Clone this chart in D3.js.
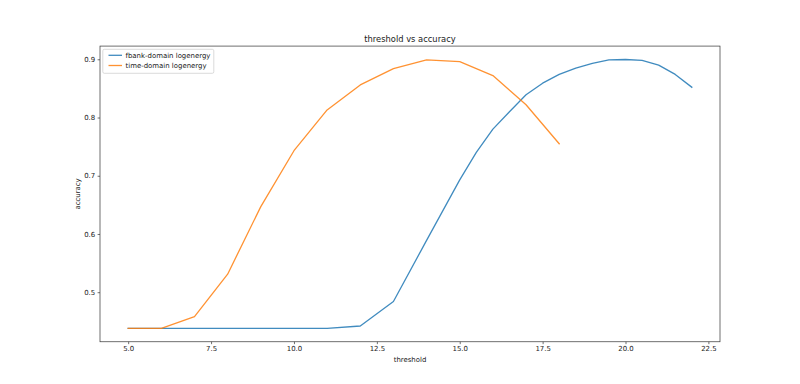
<!DOCTYPE html>
<html>
<head>
<meta charset="utf-8">
<script src="https://cdn.jsdelivr.net/npm/d3@7"></script>
<style>
  html, body { margin: 0; padding: 0; background: #fff; }
  svg { display: block; font-family: "DejaVu Sans", sans-serif; }
</style>
</head>
<body>
<svg id="chart" width="800" height="384"></svg>
<script>
// ---- data ----
const fbankX = [5, 6, 7, 8, 9, 10, 11, 12, 13, 14, 15, 15.5, 16, 16.5, 17, 17.5, 18, 18.5, 19, 19.5, 20, 20.5, 21, 21.5, 22];
const fbankY = [0.438, 0.438, 0.438, 0.438, 0.438, 0.438, 0.438, 0.442, 0.484, 0.589, 0.693, 0.740, 0.780, 0.810, 0.839, 0.859, 0.874, 0.885, 0.893, 0.899, 0.8996, 0.898, 0.890, 0.874, 0.852];
const timeX = [5, 6, 7, 8, 9, 10, 11, 12, 13, 14, 15, 16, 17, 18];
const timeY = [0.438, 0.438, 0.458, 0.531, 0.647, 0.743, 0.813, 0.856, 0.884, 0.899, 0.896, 0.872, 0.822, 0.755];
const xTicks = [5.0, 7.5, 10.0, 12.5, 15.0, 17.5, 20.0, 22.5];
const yTicks = [0.5, 0.6, 0.7, 0.8, 0.9];
const seriesNames = ["fbank-domain logenergy", "time-domain logenergy"];
const seriesColors = ["#1f77b4", "#ff7f0e"];
const titleText = "threshold vs accuracy";
const xLabel = "threshold";
const yLabel = "accuracy";

(function () {
// ---- layout ----
const mLeft = 100, mRight = 720, mTop = 46.08, mBottom = 341.76;
const svg = d3.select("#chart");

const allX = fbankX.concat(timeX), allY = fbankY.concat(timeY);
const xMin = d3.min(allX), xMax = d3.max(allX);
const yMin = d3.min(allY), yMax = d3.max(allY);
const xm = (xMax - xMin) * 0.05, ym = (yMax - yMin) * 0.05;
const x = d3.scaleLinear().domain([xMin - xm, xMax + xm]).range([mLeft, mRight]);
const y = d3.scaleLinear().domain([yMin - ym, yMax + ym]).range([mBottom, mTop]);

const fs = 6.95;
const txt = "#222";

// lines
const line = d3.line().x(d => x(d[0])).y(d => y(d[1]));
const series = [d3.zip(fbankX, fbankY), d3.zip(timeX, timeY)];
const g = svg.append("g");
series.forEach((s, i) => {
  g.append("path")
    .attr("d", line(s))
    .attr("fill", "none")
    .attr("stroke", seriesColors[i])
    .attr("stroke-opacity", 0.85)
    .attr("stroke-width", 1.3)
    .attr("stroke-linejoin", "round")
    .attr("stroke-linecap", "square");
});

// axes
const xAxis = svg.append("g")
  .attr("transform", `translate(0,${mBottom})`)
  .call(d3.axisBottom(x).tickValues(xTicks).tickFormat(d3.format(".1f")).tickSize(2.4).tickPadding(2.4).tickSizeOuter(0));
const yAxis = svg.append("g")
  .attr("transform", `translate(${mLeft},0)`)
  .call(d3.axisLeft(y).tickValues(yTicks).tickFormat(d3.format(".1f")).tickSize(2.4).tickPadding(2.4).tickSizeOuter(0));
[xAxis, yAxis].forEach(a => {
  a.select(".domain").remove();
  a.selectAll("line").attr("stroke", "#333").attr("stroke-width", 0.7);
  a.selectAll("text").attr("font-size", fs).attr("fill", txt).attr("font-family", "DejaVu Sans");
});

// frame
svg.append("rect")
  .attr("x", mLeft).attr("y", mTop)
  .attr("width", mRight - mLeft).attr("height", mBottom - mTop)
  .attr("fill", "none").attr("stroke", "#333").attr("stroke-width", 0.7);

// title & labels
svg.append("text").attr("x", (mLeft + mRight) / 2).attr("y", 41.6)
  .attr("text-anchor", "middle").attr("font-size", 8.33).attr("fill", txt).text(titleText);
svg.append("text").attr("x", (mLeft + mRight) / 2).attr("y", 362)
  .attr("text-anchor", "middle").attr("font-size", fs).attr("fill", txt).text(xLabel);
svg.append("text").attr("transform", `translate(79.5,${(mTop + mBottom) / 2}) rotate(-90)`)
  .attr("text-anchor", "middle").attr("font-size", fs).attr("fill", txt).text(yLabel);

// legend
const lg = svg.append("g");
lg.append("rect").attr("x", 102.8).attr("y", 49.3).attr("width", 111).attr("height", 24)
  .attr("rx", 1.5).attr("fill", "#fff").attr("fill-opacity", 0.8)
  .attr("stroke", "#ccc").attr("stroke-width", 0.7);
seriesNames.forEach((n, i) => {
  const yy = 55.3 + i * 10.2;
  lg.append("line").attr("x1", 108.5).attr("x2", 122).attr("y1", yy).attr("y2", yy)
    .attr("stroke", seriesColors[i]).attr("stroke-opacity", 0.85).attr("stroke-width", 1.3);
  lg.append("text").attr("x", 125.5).attr("y", yy + 2.5).attr("font-size", fs).attr("fill", txt).text(n);
});
})();
</script>
</body>
</html>
